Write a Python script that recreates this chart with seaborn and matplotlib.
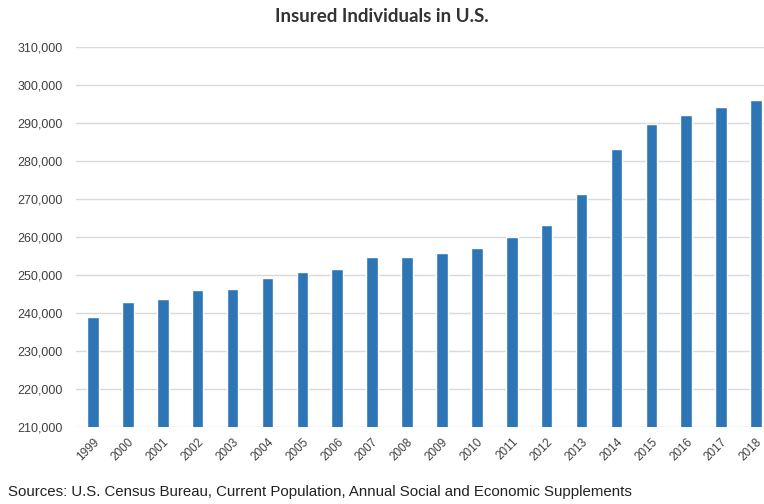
import matplotlib
matplotlib.use("Agg")
import matplotlib.pyplot as plt
import seaborn as sns
import pandas as pd
from matplotlib.ticker import FuncFormatter, MultipleLocator

# Insured individuals (thousands) by year
years = ["1999", "2000", "2001", "2002", "2003", "2004", "2005", "2006", "2007", "2008",
         "2009", "2010", "2011", "2012", "2013", "2014", "2015", "2016", "2017", "2018"]
insured = [239000, 242900, 243800, 246000, 246200, 249100, 250700, 251500, 254800, 254800,
           255700, 257000, 259900, 263200, 271300, 283200, 289700, 292100, 294200, 296000]

title = "Insured Individuals in U.S."
source = "Sources: U.S. Census Bureau, Current Population, Annual Social and Economic Supplements"

df = pd.DataFrame({"year": years, "insured": insured})

sns.set_theme(style="white")
plt.rcParams["font.family"] = ["Liberation Sans", "DejaVu Sans"]

fig = plt.figure(figsize=(7.64, 5.04), dpi=100)
ax = fig.add_axes([75.5 / 764, 77 / 504, 698 / 764, 380 / 504])

sns.barplot(data=df, x="year", y="insured", color="#2e75b6", width=0.33,
            saturation=1, ax=ax, zorder=3)

ax.set_ylim(210000, 310000)
ax.set_xlim(-0.5, len(years) - 0.5)
ax.yaxis.set_major_locator(MultipleLocator(10000))
ax.yaxis.set_major_formatter(FuncFormatter(lambda v, p: f"{int(v):,}"))
ax.grid(axis="y", color="#d9d9d9", linewidth=1.0, zorder=0)
ax.set_axisbelow(True)
for s in ax.spines.values():
    s.set_visible(False)

ax.set_xlabel("")
ax.set_ylabel("")
ax.tick_params(axis="y", length=0, pad=9, labelsize=9, labelcolor="#404040")
ax.tick_params(axis="x", length=0, pad=6.5, labelsize=8.5, labelcolor="#404040")
plt.setp(ax.get_xticklabels(), rotation=45, ha="right", rotation_mode="anchor")

fig.text(0.5, 1 - 16 / 504, title, ha="center", va="center",
         fontsize=13.5, fontweight="bold", color="#333333", family=["Lato", "DejaVu Sans"])
fig.text(8 / 764, 1 - 492 / 504, source, ha="left", va="center",
         fontsize=10.8, color="#222222")

fig.savefig("out.png", dpi=100)
